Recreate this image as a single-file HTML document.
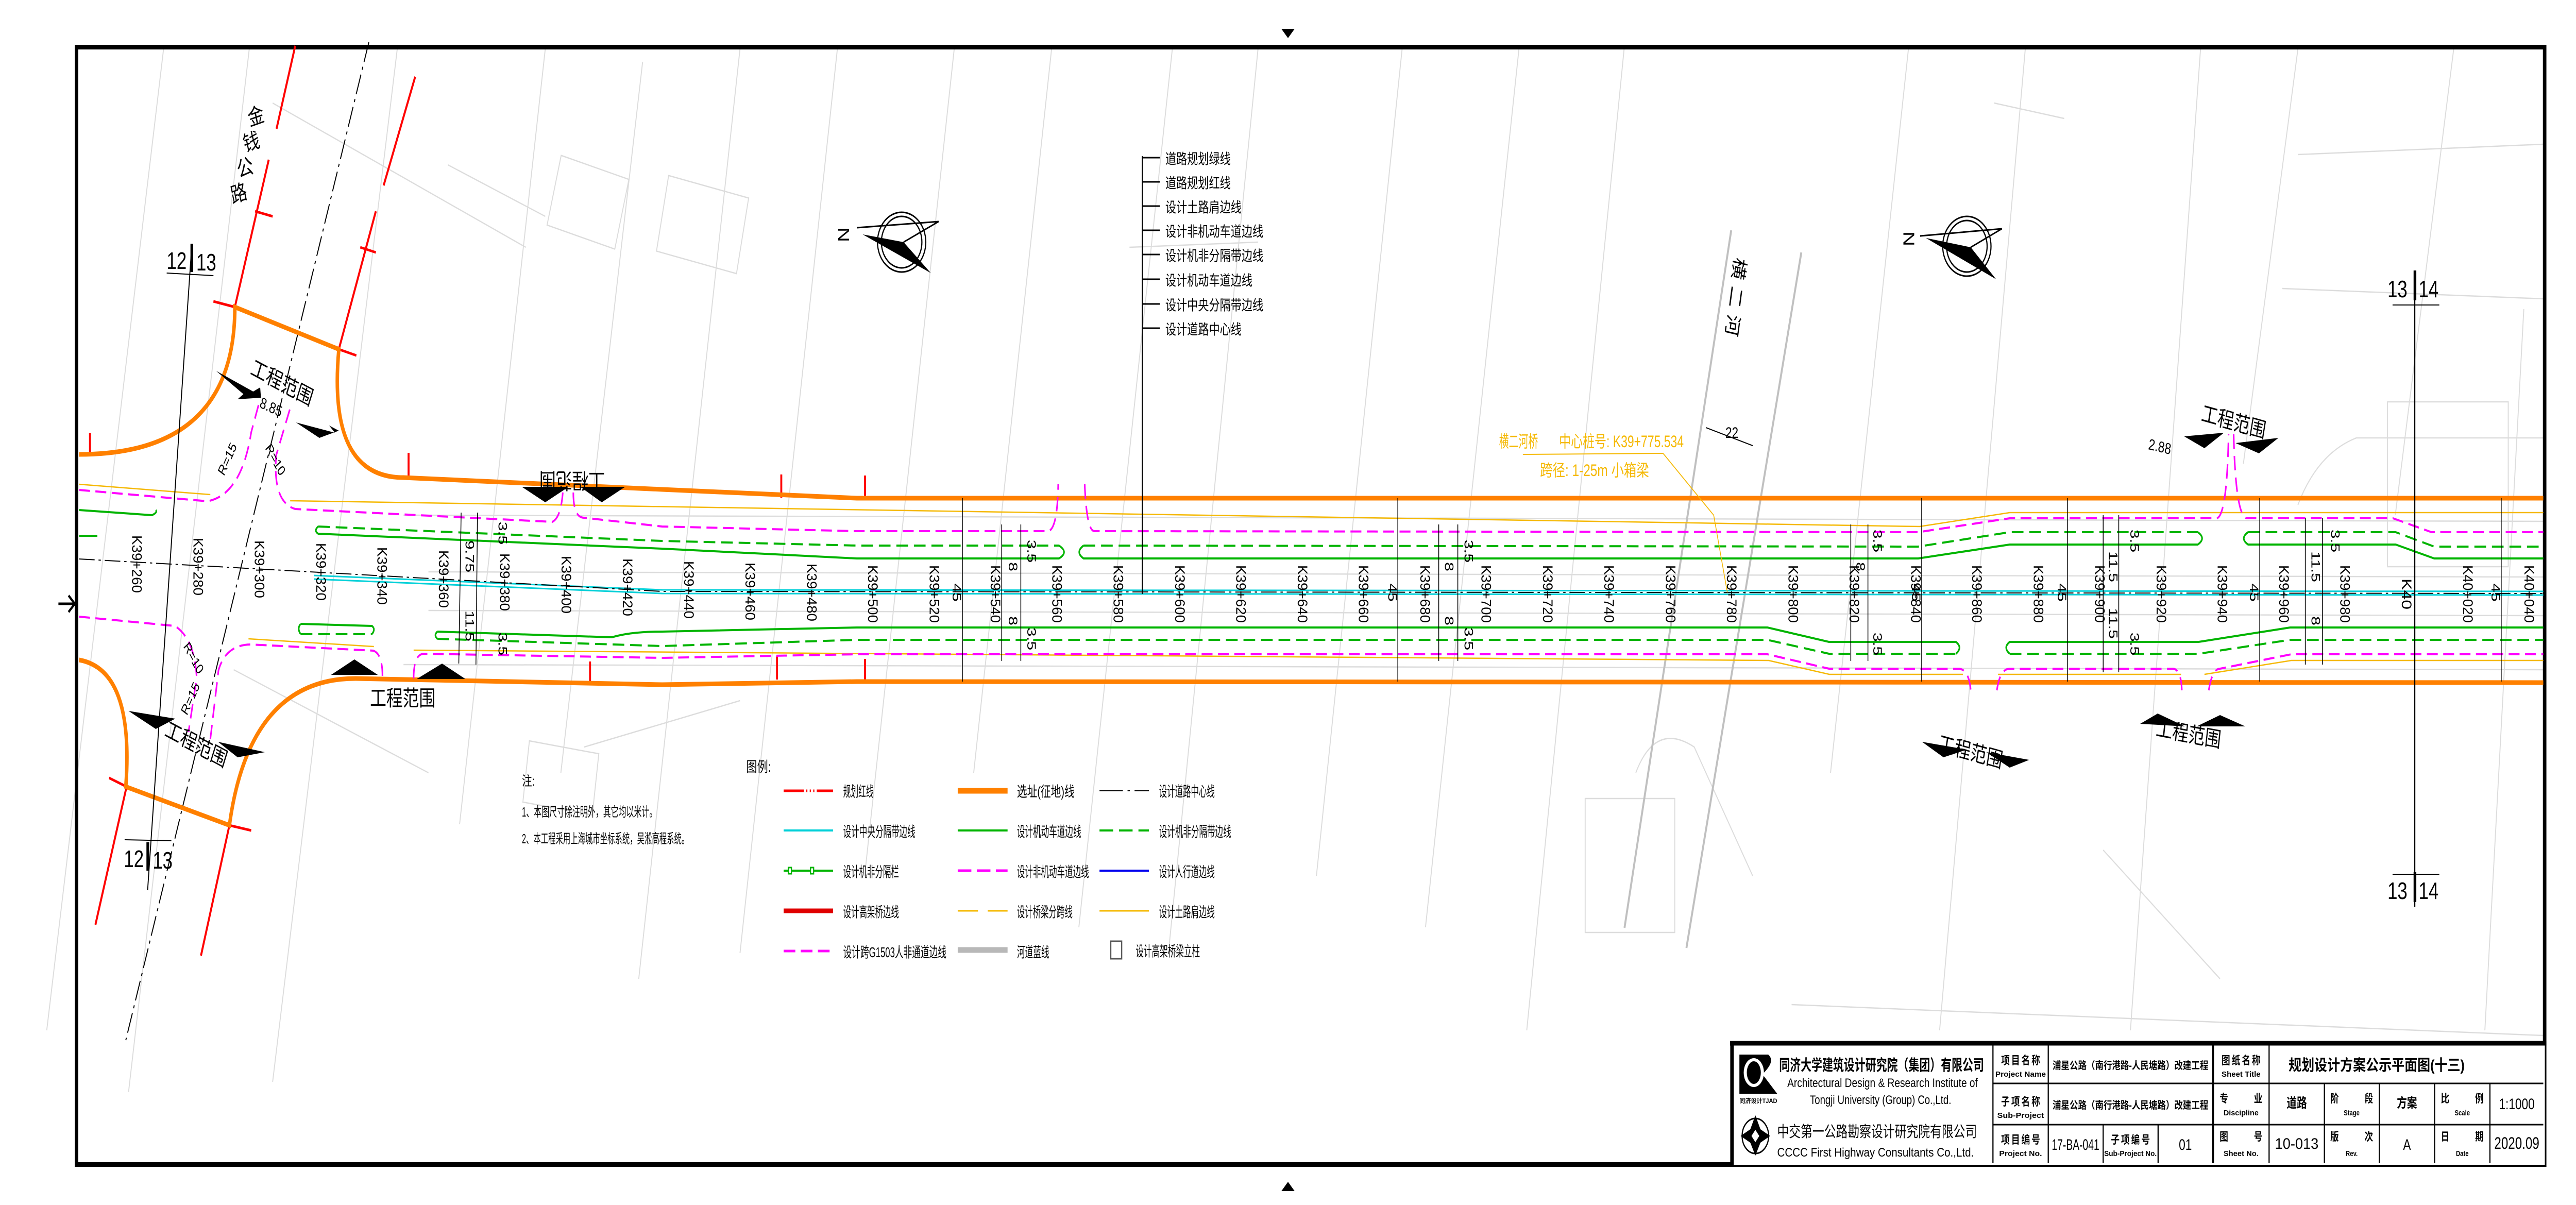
<!DOCTYPE html>
<html><head><meta charset="utf-8"><style>
html,body{margin:0;padding:0;background:#fff;width:100%;height:100%;overflow:hidden;}
svg{display:block;width:100vw;height:100vh;}
text{font-family:"Liberation Sans","Noto Sans CJK SC",sans-serif;}
.cn{font-family:"Liberation Sans","Noto Sans CJK SC",sans-serif;}
</style></head><body>
<svg viewBox="0 0 6614 2339" preserveAspectRatio="none" xmlns="http://www.w3.org/2000/svg">
<rect width="6614" height="2339" fill="#fff"/>

<g stroke="#dcdcdc" stroke-width="2.5" fill="none">
<path d="M420 95 L120 2000"/><path d="M640 95 L330 2120"/><path d="M1020 95 L700 2100"/>
<path d="M1400 95 L1180 1600"/><path d="M1650 120 L1440 1500"/><path d="M1900 95 L1640 1900"/>
<path d="M2150 95 L1900 1850"/><path d="M2450 95 L2220 1700"/><path d="M2700 95 L2500 1500"/>
<path d="M3010 95 L2770 1800"/><path d="M3230 95 L3000 1850"/><path d="M3600 95 L3380 1700"/>
<path d="M3900 95 L3660 1800"/><path d="M4170 95 L3920 2000"/><path d="M4900 95 L4700 1500"/>
<path d="M5200 95 L4980 2000"/><path d="M5650 95 L5470 2000"/><path d="M5900 95 L5760 900"/>
<path d="M6300 95 L6150 1000"/><path d="M6480 600 L6380 2000"/>
<path d="M700 200 L1350 480"/><path d="M1150 320 L1400 420"/><path d="M2900 480 L3230 470"/>
<path d="M5120 200 L5300 230"/><path d="M5900 300 L6530 280"/><path d="M5860 560 L6530 580"/>
<path d="M5900 980 Q5950 880 6050 850 L6530 850"/><path d="M4600 1950 L6530 2010"/>
<path d="M600 1300 L1100 1500"/><path d="M1500 1450 L1900 1360"/><path d="M5400 1650 L5700 1900"/>
<path d="M4200 1500 Q4250 1400 4350 1450 L4500 1700"/>
<path d="M1036 1000 L6530 1012"/><path d="M1036 1290 L6530 1300"/>
<path d="M1100 1110 L6530 1120"/><path d="M1100 1185 L6530 1195"/>
<rect x="1420" y="320" width="180" height="140" transform="rotate(15 1500 390)"/>
<rect x="1700" y="360" width="210" height="150" transform="rotate(12 1800 430)"/>
<rect x="4070" y="1550" width="230" height="260"/><rect x="6130" y="780" width="310" height="320"/>
<rect x="1350" y="1450" width="180" height="120" transform="rotate(8 1440 1510)"/>
</g>
<g stroke="#c0c0c0" stroke-width="5" fill="none">
<path d="M4445 447 L4171 1801"/><path d="M4625 490 L4330 1840"/>
</g>

<rect x="196.5" y="91.5" width="6337" height="2169" fill="none" stroke="#000" stroke-width="9"/>
<path d="M3290 56 L3324 56 L3307 74 Z" fill="#000"/>
<path d="M3290 2312 L3324 2312 L3307 2294 Z" fill="#000"/>
<path d="M150 1172 L192 1172 M176 1156 L192 1172 L176 1188" stroke="#000" stroke-width="5" fill="none"/>

<g stroke="#f00" stroke-width="5" fill="none">
<path d="M603 596 L690 310"/><path d="M710 250 L758 89"/>
<path d="M870 678 L965 410"/><path d="M985 360 L1066 149"/>
<path d="M325 1527 L245 1795"/><path d="M589 1602 L516 1855"/>
<path d="M231 840 L231 882"/><path d="M1049 879 L1049 924"/><path d="M2006 921 L2006 966"/>
<path d="M1515 1284 L1515 1330"/><path d="M1995 1274 L1995 1319"/>
<path d="M2221 923 L2221 967"/><path d="M2221 1279 L2221 1319"/>
<path d="M548 585 L603 596"/><path d="M870 678 L915 690"/><path d="M280 1510 L325 1527"/><path d="M589 1602 L645 1612"/>
<path d="M655 410 L700 420"/><path d="M925 480 L965 490"/>
</g>
<path d="M947 82 L323 2019" stroke="#000" stroke-width="2.5" stroke-dasharray="40 10 6 10" fill="none"/>

<g stroke="#f5b800" stroke-width="2.5" fill="none">
<path d="M203 940 L540 960"/><path d="M745 972 L4929 1022 L5160 995 L6530 995"/>
<path d="M638 1240 L960 1255"/><path d="M1062 1262 L4541 1282 L4697 1309 L5040 1309"/>
<path d="M5130 1309 L5600 1309"/><path d="M5660 1309 L5883 1282 L6530 1282"/>
</g>

<g stroke="#ff8000" stroke-width="9" fill="none">
<path d="M203 882 Q603 882 603 596 L870 678 Q840 927 1036 927 L1700 950 L2200 967 L6530 967"/>
<path d="M203 1281 Q345 1300 323 1527 L589 1602 Q640 1317 913 1317 L1700 1329 L2200 1323 L6530 1325"/>
</g>

<g stroke="#f0f" stroke-width="4" fill="none" stroke-dasharray="28 14">
<path d="M203 951 L533 973 Q620 960 645 839 L666 780"/>
<path d="M744 795 L709 884 Q700 975 758 988 L1418 1013 Q1440 1005 1445 956"/>
<path d="M1472 956 Q1472 1005 1500 1005 L1700 1022 L2200 1031 L2690 1031 Q2715 1030 2717 940"/>
<path d="M2785 940 Q2790 1031 2810 1031 L4925 1033 L5160 1006 L5692 1006 Q5718 1000 5722 843"/>
<path d="M5735 843 Q5740 1006 5770 1006 L6144 1006 L6243 1033 L6530 1033"/>
<path d="M203 1197 L449 1215 Q500 1240 505 1316 L484 1421"/>
<path d="M540 1435 L561 1301 Q580 1251 645 1251 L959 1263 Q982 1270 982 1312"/>
<path d="M1062 1317 Q1062 1269 1089 1269 L1700 1277 L2200 1270 L4538 1270 L4696 1298 L5030 1298 Q5055 1300 5060 1340"/>
<path d="M5127 1340 Q5135 1298 5160 1298 L5580 1298 Q5600 1300 5602 1340"/>
<path d="M5671 1340 Q5680 1298 5700 1298 L5883 1270 L6530 1270"/>
</g>

<g stroke="#00b400" stroke-width="4" fill="none">
<path d="M203 990 L390 1000 Q405 995 400 990"/>
<path d="M203 1040 L250 1040"/>
<path d="M817 1022 Q805 1030 817 1036 L1700 1065 L2200 1084 L2719 1084"/>
<path d="M2719 1084 Q2745 1072 2719 1059"/>
<path d="M2782 1059 Q2760 1072 2782 1084 L4925 1084 L5160 1057 L5643 1057 Q5665 1045 5643 1033"/>
<path d="M5772 1033 Q5750 1045 5772 1057 L6151 1057 L6250 1084 L6530 1084"/>
<path d="M772 1211 L955 1215 Q965 1221 955 1231"/>
<path d="M772 1211 Q762 1220 772 1231"/>
<path d="M1123 1226 L1571 1237 Q1620 1226 1700 1226 L2200 1218 L4538 1218 L4696 1246 L5022 1246 Q5040 1257 5022 1269"/>
<path d="M5160 1269 Q5142 1257 5160 1246 L5645 1246 L5880 1218 L6530 1218"/>
<path d="M1123 1226 Q1113 1233 1123 1240"/>
</g>
<g stroke="#00b400" stroke-width="4" fill="none" stroke-dasharray="30 15">
<path d="M817 1022 L1700 1050 L2200 1059 L2719 1059"/>
<path d="M2782 1059 L4925 1061 L5160 1033 L5643 1033"/>
<path d="M5772 1033 L6151 1033 L6250 1061 L6530 1061"/>
<path d="M772 1231 L955 1231"/>
<path d="M1123 1240 L1700 1254 L2200 1242 L4538 1242 L4696 1269 L5022 1269"/>
<path d="M5160 1269 L5645 1269 L5880 1242 L6530 1242"/>
</g>

<path d="M806 1117 L1700 1145 L6530 1148" stroke="#00d0d8" stroke-width="3" fill="none"/>
<path d="M806 1124 L1700 1152 L6530 1155" stroke="#00d0d8" stroke-width="3" fill="none"/>
<path d="M203 1085 L1700 1148 L6530 1152" stroke="#000" stroke-width="2" stroke-dasharray="40 10 6 10" fill="none"/>

<g font-size="36" fill="#000">
<text transform="translate(351,1095) rotate(90)" text-anchor="middle" dy="12" textLength="112" lengthAdjust="spacingAndGlyphs">K39+260</text>
<text transform="translate(509,1100) rotate(90)" text-anchor="middle" dy="12" textLength="112" lengthAdjust="spacingAndGlyphs">K39+280</text>
<text transform="translate(666,1105) rotate(90)" text-anchor="middle" dy="12" textLength="112" lengthAdjust="spacingAndGlyphs">K39+300</text>
<text transform="translate(824,1110) rotate(90)" text-anchor="middle" dy="12" textLength="112" lengthAdjust="spacingAndGlyphs">K39+320</text>
<text transform="translate(981,1118) rotate(90)" text-anchor="middle" dy="12" textLength="112" lengthAdjust="spacingAndGlyphs">K39+340</text>
<text transform="translate(1139,1124) rotate(90)" text-anchor="middle" dy="12" textLength="112" lengthAdjust="spacingAndGlyphs">K39+360</text>
<text transform="translate(1296,1130) rotate(90)" text-anchor="middle" dy="12" textLength="112" lengthAdjust="spacingAndGlyphs">K39+380</text>
<text transform="translate(1454,1135) rotate(90)" text-anchor="middle" dy="12" textLength="112" lengthAdjust="spacingAndGlyphs">K39+400</text>
<text transform="translate(1611,1140) rotate(90)" text-anchor="middle" dy="12" textLength="112" lengthAdjust="spacingAndGlyphs">K39+420</text>
<text transform="translate(1769,1145) rotate(90)" text-anchor="middle" dy="12" textLength="112" lengthAdjust="spacingAndGlyphs">K39+440</text>
<text transform="translate(1926,1148) rotate(90)" text-anchor="middle" dy="12" textLength="112" lengthAdjust="spacingAndGlyphs">K39+460</text>
<text transform="translate(2084,1150) rotate(90)" text-anchor="middle" dy="12" textLength="112" lengthAdjust="spacingAndGlyphs">K39+480</text>
<text transform="translate(2241,1153) rotate(90)" text-anchor="middle" dy="12" textLength="112" lengthAdjust="spacingAndGlyphs">K39+500</text>
<text transform="translate(2399,1153) rotate(90)" text-anchor="middle" dy="12" textLength="112" lengthAdjust="spacingAndGlyphs">K39+520</text>
<text transform="translate(2556,1153) rotate(90)" text-anchor="middle" dy="12" textLength="112" lengthAdjust="spacingAndGlyphs">K39+540</text>
<text transform="translate(2714,1153) rotate(90)" text-anchor="middle" dy="12" textLength="112" lengthAdjust="spacingAndGlyphs">K39+560</text>
<text transform="translate(2871,1153) rotate(90)" text-anchor="middle" dy="12" textLength="112" lengthAdjust="spacingAndGlyphs">K39+580</text>
<text transform="translate(3029,1153) rotate(90)" text-anchor="middle" dy="12" textLength="112" lengthAdjust="spacingAndGlyphs">K39+600</text>
<text transform="translate(3186,1153) rotate(90)" text-anchor="middle" dy="12" textLength="112" lengthAdjust="spacingAndGlyphs">K39+620</text>
<text transform="translate(3344,1153) rotate(90)" text-anchor="middle" dy="12" textLength="112" lengthAdjust="spacingAndGlyphs">K39+640</text>
<text transform="translate(3501,1153) rotate(90)" text-anchor="middle" dy="12" textLength="112" lengthAdjust="spacingAndGlyphs">K39+660</text>
<text transform="translate(3659,1153) rotate(90)" text-anchor="middle" dy="12" textLength="112" lengthAdjust="spacingAndGlyphs">K39+680</text>
<text transform="translate(3816,1153) rotate(90)" text-anchor="middle" dy="12" textLength="112" lengthAdjust="spacingAndGlyphs">K39+700</text>
<text transform="translate(3974,1153) rotate(90)" text-anchor="middle" dy="12" textLength="112" lengthAdjust="spacingAndGlyphs">K39+720</text>
<text transform="translate(4131,1153) rotate(90)" text-anchor="middle" dy="12" textLength="112" lengthAdjust="spacingAndGlyphs">K39+740</text>
<text transform="translate(4289,1153) rotate(90)" text-anchor="middle" dy="12" textLength="112" lengthAdjust="spacingAndGlyphs">K39+760</text>
<text transform="translate(4446,1153) rotate(90)" text-anchor="middle" dy="12" textLength="112" lengthAdjust="spacingAndGlyphs">K39+780</text>
<text transform="translate(4604,1153) rotate(90)" text-anchor="middle" dy="12" textLength="112" lengthAdjust="spacingAndGlyphs">K39+800</text>
<text transform="translate(4761,1153) rotate(90)" text-anchor="middle" dy="12" textLength="112" lengthAdjust="spacingAndGlyphs">K39+820</text>
<text transform="translate(4919,1153) rotate(90)" text-anchor="middle" dy="12" textLength="112" lengthAdjust="spacingAndGlyphs">K39+840</text>
<text transform="translate(5076,1153) rotate(90)" text-anchor="middle" dy="12" textLength="112" lengthAdjust="spacingAndGlyphs">K39+860</text>
<text transform="translate(5234,1153) rotate(90)" text-anchor="middle" dy="12" textLength="112" lengthAdjust="spacingAndGlyphs">K39+880</text>
<text transform="translate(5391,1153) rotate(90)" text-anchor="middle" dy="12" textLength="112" lengthAdjust="spacingAndGlyphs">K39+900</text>
<text transform="translate(5549,1153) rotate(90)" text-anchor="middle" dy="12" textLength="112" lengthAdjust="spacingAndGlyphs">K39+920</text>
<text transform="translate(5706,1153) rotate(90)" text-anchor="middle" dy="12" textLength="112" lengthAdjust="spacingAndGlyphs">K39+940</text>
<text transform="translate(5864,1153) rotate(90)" text-anchor="middle" dy="12" textLength="112" lengthAdjust="spacingAndGlyphs">K39+960</text>
<text transform="translate(6021,1153) rotate(90)" text-anchor="middle" dy="12" textLength="112" lengthAdjust="spacingAndGlyphs">K39+980</text>
<text transform="translate(6179,1153) rotate(90)" text-anchor="middle" dy="12" textLength="60" lengthAdjust="spacingAndGlyphs">K40</text>
<text transform="translate(6336,1153) rotate(90)" text-anchor="middle" dy="12" textLength="112" lengthAdjust="spacingAndGlyphs">K40+020</text>
<text transform="translate(6494,1153) rotate(90)" text-anchor="middle" dy="12" textLength="112" lengthAdjust="spacingAndGlyphs">K40+040</text>
</g>

<g stroke="#000" stroke-width="2" fill="none">
<path d="M2471 967 L2471 1323"/><path d="M3589 967 L3589 1323"/><path d="M4934 967 L4934 1323"/>
<path d="M5308 967 L5308 1323"/><path d="M5802 967 L5802 1323"/><path d="M6422 967 L6422 1323"/>
<path d="M1184 995 L1178 1288"/><path d="M1226 995 L1222 1290"/>
<path d="M2572 1018 L2572 1283"/><path d="M2621 1018 L2621 1283"/>
<path d="M3694 1018 L3694 1283"/><path d="M3743 1018 L3743 1283"/>
<path d="M4752 1018 L4752 1283"/><path d="M4796 1018 L4796 1283"/>
<path d="M5400 1000 L5400 1305"/><path d="M5440 1000 L5440 1305"/>
<path d="M5919 1005 L5919 1290"/><path d="M5963 1005 L5963 1290"/>
<path d="M6200 560 L6200 1760" stroke-width="3"/>
<path d="M491 492 L379 1728" stroke-width="2.5"/>
<path d="M4380 830 L4500 865"/>
<path d="M2933 303 L2933 1153" stroke-width="3"/>
<path d="M2933 306 L2978 306 M2933 353 L2978 353 M2933 400 L2978 400 M2933 447 L2978 447 M2933 494 L2978 494 M2933 542 L2978 542 M2933 590 L2978 590 M2933 637 L2978 637" stroke-width="3"/>
</g>
<g font-size="32" fill="#000">
<text transform="translate(2456,1150) rotate(90)" text-anchor="middle" dy="10">45</text>
<text transform="translate(3574,1150) rotate(90)" text-anchor="middle" dy="10">45</text>
<text transform="translate(4919,1150) rotate(90)" text-anchor="middle" dy="10">45</text>
<text transform="translate(5293,1150) rotate(90)" text-anchor="middle" dy="10">45</text>
<text transform="translate(5787,1150) rotate(90)" text-anchor="middle" dy="10">45</text>
<text transform="translate(6407,1150) rotate(90)" text-anchor="middle" dy="10">45</text>
<text transform="translate(2600,1100) rotate(90)" text-anchor="middle" dy="10">8</text>
<text transform="translate(2600,1205) rotate(90)" text-anchor="middle" dy="10">8</text>
<text transform="translate(2648,1070) rotate(90)" text-anchor="middle" dy="10">3.5</text>
<text transform="translate(2648,1240) rotate(90)" text-anchor="middle" dy="10">3.5</text>
<text transform="translate(3720,1100) rotate(90)" text-anchor="middle" dy="10">8</text>
<text transform="translate(3720,1205) rotate(90)" text-anchor="middle" dy="10">8</text>
<text transform="translate(3770,1070) rotate(90)" text-anchor="middle" dy="10">3.5</text>
<text transform="translate(3770,1240) rotate(90)" text-anchor="middle" dy="10">3.5</text>
<text transform="translate(1205,1080) rotate(90)" text-anchor="middle" dy="10">9.75</text>
<text transform="translate(1205,1215) rotate(90)" text-anchor="middle" dy="10">11.5</text>
<text transform="translate(1290,1035) rotate(90)" text-anchor="middle" dy="10">3.5</text>
<text transform="translate(1290,1250) rotate(90)" text-anchor="middle" dy="10">3.5</text>
<text transform="translate(5425,1100) rotate(90)" text-anchor="middle" dy="10">11.5</text>
<text transform="translate(5425,1210) rotate(90)" text-anchor="middle" dy="10">11.5</text>
<text transform="translate(5480,1050) rotate(90)" text-anchor="middle" dy="10">3.5</text>
<text transform="translate(5480,1250) rotate(90)" text-anchor="middle" dy="10">3.5</text>
<text transform="translate(5945,1100) rotate(90)" text-anchor="middle" dy="10">11.5</text>
<text transform="translate(5945,1205) rotate(90)" text-anchor="middle" dy="10">8</text>
<text transform="translate(5995,1050) rotate(90)" text-anchor="middle" dy="10">3.5</text>
<text transform="translate(4776,1100) rotate(90)" text-anchor="middle" dy="10">8</text>
<text transform="translate(4820,1050) rotate(90)" text-anchor="middle" dy="10">3.5</text>
<text transform="translate(4820,1250) rotate(90)" text-anchor="middle" dy="10">3.5</text>
<text x="4430" y="850" font-size="30">22</text>
<text x="5515" y="872" font-size="30" transform="rotate(10 5515 872)">2.88</text>
<text x="665" y="790" font-size="30" transform="rotate(20 665 790)">8.85</text>
<text x="575" y="925" font-size="28" transform="rotate(-60 575 925)">R=15</text>
<text x="680" y="870" font-size="28" transform="rotate(55 680 870)">R=10</text>
<text x="480" y="1390" font-size="28" transform="rotate(-60 480 1390)">R=15</text>
<text x="470" y="1255" font-size="28" transform="rotate(55 470 1255)">R=10</text>
</g>

<g fill="#000" font-size="46">
<text x="428" y="522">12</text><text x="504" y="525">13</text>
<rect x="489" y="473" width="7" height="55"/><path d="M428 530 L548 535" stroke="#000" stroke-width="2"/>
<text x="318" y="1683">12</text><text x="392" y="1686">13</text>
<rect x="376" y="1635" width="7" height="55"/><path d="M320 1630 L440 1632" stroke="#000" stroke-width="2"/>
<text x="6130" y="577">13</text><text x="6210" y="577">14</text>
<rect x="6197" y="525" width="7" height="58"/><path d="M6143 592 L6263 592" stroke="#000" stroke-width="2"/>
<text x="6130" y="1745">13</text><text x="6210" y="1745">14</text>
<rect x="6197" y="1693" width="7" height="58"/><path d="M6143 1697 L6263 1697" stroke="#000" stroke-width="2"/>
</g>

<g fill="#000" font-size="42" class="cn">
<text x="640" y="240" transform="rotate(-15 660 240)">金</text>
<text x="628" y="290" transform="rotate(-15 648 290)">钱</text>
<text x="612" y="340" transform="rotate(-15 632 340)">公</text>
<text x="596" y="390" transform="rotate(-15 616 390)">路</text>
<text x="4440" y="530" transform="rotate(100 4460 520)">横</text>
<text x="4432" y="585" transform="rotate(100 4452 575)">二</text>
<text x="4424" y="640" transform="rotate(100 4444 630)">河</text>
</g>

<g fill="#000" font-size="42" class="cn">
<text x="640" y="760" transform="rotate(22 730 745)">工程范围</text>
<text transform="translate(1468,918) rotate(180)" x="-85" y="0">工程范围</text>
<text x="950" y="1370">工程范围</text>
<text x="420" y="1460" transform="rotate(22 505 1445)">工程范围</text>
<text x="5650" y="835" transform="rotate(12 5741 826)">工程范围</text>
<text x="4975" y="1475" transform="rotate(12 5064 1463)">工程范围</text>
<text x="5535" y="1440" transform="rotate(8 5621 1428)">工程范围</text>
</g>
<g fill="#000">
<path d="M555 720 L650 760 L668 752 L670 772 L610 775 L625 765 Z"/>
<path d="M760 820 L860 840 L845 826 L870 836 L820 850 Z"/>
<path d="M1340 945 L1460 945 L1400 975 Z"/><path d="M1490 945 L1605 945 L1545 975 Z"/>
<path d="M850 1310 L970 1310 L910 1280 Z"/><path d="M1070 1318 L1195 1318 L1135 1288 Z"/>
<path d="M330 1380 L450 1395 L400 1415 Z"/><path d="M560 1440 L680 1460 L610 1470 Z"/>
<path d="M5608 847 L5710 840 L5660 870 Z"/><path d="M5740 860 L5850 850 L5800 880 Z"/>
<path d="M4935 1440 L5050 1455 L4990 1470 Z"/><path d="M5100 1460 L5210 1475 L5160 1490 Z"/>
<path d="M5495 1405 L5610 1410 L5540 1385 Z"/><path d="M5640 1410 L5765 1410 L5700 1388 Z"/>
</g>

<g stroke="#000" fill="none" stroke-width="3">
<ellipse cx="2315" cy="470" rx="62" ry="58"/><ellipse cx="2315" cy="470" rx="52" ry="50"/>
<ellipse cx="5050" cy="478" rx="62" ry="58"/><ellipse cx="5050" cy="478" rx="52" ry="50"/>
<path d="M2200 442 L2410 430 L2320 470"/><path d="M4930 458 L5140 444 L5060 480"/>
</g>
<path d="M2215 455 L2390 530 L2320 470 Z" fill="#000"/>
<path d="M4945 462 L5125 542 L5060 480 Z" fill="#000"/>
<text x="2150" y="460" font-size="40" fill="#000" transform="rotate(-90 2170 450)">N</text>
<text x="4885" y="468" font-size="40" fill="#000" transform="rotate(-90 4905 458)">N</text>

<g fill="#f5b800" font-size="32">
<text x="3849" y="868" textLength="100" lengthAdjust="spacingAndGlyphs">横二河桥</text>
<text x="4003" y="868" textLength="320" lengthAdjust="spacingAndGlyphs">中心桩号: K39+775.534</text>
<text x="3954" y="924" textLength="280" lengthAdjust="spacingAndGlyphs">跨径: 1-25m   小箱梁</text>
</g>
<path d="M3910 882 L4270 880 L4400 1000 L4435 1150" stroke="#f5b800" stroke-width="2" fill="none"/>

<g fill="#000" font-size="28" class="cn">
<text x="2992" y="318">道路规划绿线</text>
<text x="2992" y="365">道路规划红线</text>
<text x="2992" y="412">设计土路肩边线</text>
<text x="2992" y="459">设计非机动车道边线</text>
<text x="2992" y="506">设计机非分隔带边线</text>
<text x="2992" y="554">设计机动车道边线</text>
<text x="2992" y="602">设计中央分隔带边线</text>
<text x="2992" y="649">设计道路中心线</text>
</g>

<g fill="#000" font-size="26" class="cn">
<text x="1340" y="1525">注:</text>
<text x="1340" y="1585" textLength="347" lengthAdjust="spacingAndGlyphs">1、本图尺寸除注明外，其它均以米计。</text>
<text x="1340" y="1637" textLength="429" lengthAdjust="spacingAndGlyphs">2、本工程采用上海城市坐标系统，吴淞高程系统。</text>
<text x="1916" y="1498" font-size="28">图例:</text>
</g>

<g fill="none">
<path d="M2012 1535 L2139 1535" stroke="#f00" stroke-width="5" stroke-dasharray="52 6 3 6 3 6 3 6 60"/>
<path d="M2012 1612 L2139 1612" stroke="#00d0d8" stroke-width="4"/>
<path d="M2012 1690 L2139 1690" stroke="#00b400" stroke-width="4"/>
<rect x="2024" y="1684" width="8" height="12" stroke="#00b400" stroke-width="3" fill="#fff"/>
<rect x="2081" y="1684" width="8" height="12" stroke="#00b400" stroke-width="3" fill="#fff"/>
<path d="M2012 1768 L2139 1768" stroke="#e00000" stroke-width="9"/>
<path d="M2012 1846 L2139 1846" stroke="#f0f" stroke-width="5" stroke-dasharray="30 14"/>
<path d="M2459 1535 L2587 1535" stroke="#ff8000" stroke-width="11"/>
<path d="M2459 1612 L2587 1612" stroke="#00b400" stroke-width="4"/>
<path d="M2459 1690 L2587 1690" stroke="#f0f" stroke-width="5" stroke-dasharray="35 14"/>
<path d="M2459 1768 L2587 1768" stroke="#f5b800" stroke-width="3" stroke-dasharray="52 25"/>
<path d="M2459 1844 L2587 1844" stroke="#b8b8b8" stroke-width="11"/>
<path d="M2823 1535 L2950 1535" stroke="#000" stroke-width="2" stroke-dasharray="60 12 6 12"/>
<path d="M2823 1612 L2950 1612" stroke="#00b400" stroke-width="4" stroke-dasharray="35 15"/>
<path d="M2823 1690 L2950 1690" stroke="#0000ee" stroke-width="4"/>
<path d="M2823 1768 L2950 1768" stroke="#f5b800" stroke-width="3"/>
<rect x="2852" y="1827" width="28" height="34" stroke="#555" stroke-width="3"/>
</g>
<g fill="#000" font-size="28" class="cn">
<text x="2165" y="1546" textLength="78" lengthAdjust="spacingAndGlyphs">规划红线</text>
<text x="2165" y="1624" textLength="185" lengthAdjust="spacingAndGlyphs">设计中央分隔带边线</text>
<text x="2165" y="1702" textLength="143" lengthAdjust="spacingAndGlyphs">设计机非分隔栏</text>
<text x="2165" y="1780" textLength="143" lengthAdjust="spacingAndGlyphs">设计高架桥边线</text>
<text x="2165" y="1858" textLength="265" lengthAdjust="spacingAndGlyphs">设计跨G1503人非通道边线</text>
<text x="2611" y="1546" textLength="148" lengthAdjust="spacingAndGlyphs">选址(征地)线</text>
<text x="2611" y="1624" textLength="165" lengthAdjust="spacingAndGlyphs">设计机动车道边线</text>
<text x="2611" y="1702" textLength="185" lengthAdjust="spacingAndGlyphs">设计非机动车道边线</text>
<text x="2611" y="1780" textLength="143" lengthAdjust="spacingAndGlyphs">设计桥梁分跨线</text>
<text x="2611" y="1858" textLength="83" lengthAdjust="spacingAndGlyphs">河道蓝线</text>
<text x="2976" y="1546" textLength="143" lengthAdjust="spacingAndGlyphs">设计道路中心线</text>
<text x="2976" y="1624" textLength="185" lengthAdjust="spacingAndGlyphs">设计机非分隔带边线</text>
<text x="2976" y="1702" textLength="143" lengthAdjust="spacingAndGlyphs">设计人行道边线</text>
<text x="2976" y="1780" textLength="143" lengthAdjust="spacingAndGlyphs">设计土路肩边线</text>
<text x="2916" y="1856" textLength="165" lengthAdjust="spacingAndGlyphs">设计高架桥梁立柱</text>
</g>

<rect x="4447" y="2025" width="2087" height="236" fill="#fff"/>
<path d="M4442 2025 L6538 2025 M4447 2021 L4447 2265" stroke="#000" stroke-width="9"/>
<g stroke="#000" stroke-width="3" fill="none">
<path d="M5117 2029 L5117 2257"/><path d="M5259 2029 L5259 2257"/>
<path d="M5400 2183 L5400 2257"/><path d="M5541 2183 L5541 2257"/>
<path d="M5682 2029 L5682 2257" stroke-width="5"/><path d="M5826 2029 L5826 2257"/>
<path d="M5968 2103 L5968 2257"/><path d="M6109 2103 L6109 2257"/>
<path d="M6251 2103 L6251 2257"/><path d="M6393 2103 L6393 2257"/>
<path d="M5117 2103 L6530 2103"/><path d="M5117 2183 L6530 2183"/>
</g>
<path d="M4466 2047 L4466 2123 L4563 2123 L4525 2085 Q4560 2060 4540 2047 Z" fill="#000"/>
<ellipse cx="4503" cy="2082" rx="26" ry="28" fill="#fff"/><ellipse cx="4503" cy="2082" rx="18" ry="22" fill="#000"/>
<text x="4466" y="2141" font-size="12" font-weight="bold" fill="#000" textLength="97" lengthAdjust="spacingAndGlyphs">同济设计TJAD</text>
<circle cx="4507" cy="2205" r="34" stroke="#000" stroke-width="3" fill="none"/>
<path d="M4507 2165 L4520 2192 L4545 2205 L4520 2218 L4507 2243 L4494 2218 L4469 2205 L4494 2192 Z" fill="#000"/>
<path d="M4507 2193 L4517 2205 L4507 2217 L4497 2205 Z" fill="#fff"/>
<g fill="#000">
<text x="4568" y="2078" font-size="30" font-weight="bold" textLength="526" lengthAdjust="spacingAndGlyphs">同济大学建筑设计研究院（集团）有限公司</text>
<text x="4589" y="2110" font-size="24" font-family="Liberation Serif" textLength="489" lengthAdjust="spacingAndGlyphs">Architectural Design &amp; Research Institute of</text>
<text x="4647" y="2143" font-size="24" font-family="Liberation Serif" textLength="363" lengthAdjust="spacingAndGlyphs">Tongji University (Group) Co.,Ltd.</text>
<text x="4563" y="2207" font-size="30" textLength="513" lengthAdjust="spacingAndGlyphs">中交第一公路勘察设计研究院有限公司</text>
<text x="4563" y="2245" font-size="24" font-family="Liberation Mono" textLength="505" lengthAdjust="spacingAndGlyphs">CCCC First Highway Consultants Co.,Ltd.</text>
</g>
<g fill="#000" font-weight="bold">
<g font-size="22">
<text x="5188" y="2066" text-anchor="middle" textLength="100" lengthAdjust="spacing">项目名称</text>
<text x="5188" y="2146" text-anchor="middle" textLength="100" lengthAdjust="spacing">子项名称</text>
<text x="5188" y="2220" text-anchor="middle" textLength="100" lengthAdjust="spacing">项目编号</text>
<text x="5470" y="2220" text-anchor="middle" textLength="100" lengthAdjust="spacing">子项编号</text>
<text x="5754" y="2066" text-anchor="middle" textLength="100" lengthAdjust="spacing">图纸名称</text>
<text x="5754" y="2140" text-anchor="middle" textLength="110" lengthAdjust="spacing">专         业</text>
<text x="5754" y="2214" text-anchor="middle" textLength="110" lengthAdjust="spacing">图         号</text>
<text x="6038" y="2140" text-anchor="middle" textLength="110" lengthAdjust="spacing">阶         段</text>
<text x="6038" y="2214" text-anchor="middle" textLength="110" lengthAdjust="spacing">版         次</text>
<text x="6322" y="2140" text-anchor="middle" textLength="110" lengthAdjust="spacing">比         例</text>
<text x="6322" y="2214" text-anchor="middle" textLength="110" lengthAdjust="spacing">日         期</text>
<text x="5897" y="2150" text-anchor="middle" font-size="26">道路</text>
<text x="6180" y="2150" text-anchor="middle" font-size="26">方案</text>
</g>
<g font-size="15" font-family="Liberation Serif">
<text x="5188" y="2090" text-anchor="middle" textLength="130" lengthAdjust="spacingAndGlyphs">Project Name</text>
<text x="5188" y="2170" text-anchor="middle" textLength="120" lengthAdjust="spacingAndGlyphs">Sub-Project</text>
<text x="5188" y="2244" text-anchor="middle" textLength="110" lengthAdjust="spacingAndGlyphs">Project No.</text>
<text x="5470" y="2244" text-anchor="middle" textLength="135" lengthAdjust="spacingAndGlyphs">Sub-Project No.</text>
<text x="5754" y="2090" text-anchor="middle" textLength="100" lengthAdjust="spacingAndGlyphs">Sheet Title</text>
<text x="5754" y="2165" text-anchor="middle" textLength="90" lengthAdjust="spacingAndGlyphs">Discipline</text>
<text x="5754" y="2244" text-anchor="middle" textLength="90" lengthAdjust="spacingAndGlyphs">Sheet No.</text>
<text x="6038" y="2165" text-anchor="middle">Stage</text>
<text x="6038" y="2244" text-anchor="middle">Rev.</text>
<text x="6322" y="2165" text-anchor="middle">Scale</text>
<text x="6322" y="2244" text-anchor="middle">Date</text>
</g>
<text x="5270" y="2075" font-size="20" textLength="400" lengthAdjust="spacingAndGlyphs">浦星公路（南行港路-人民塘路）改建工程</text>
<text x="5270" y="2152" font-size="20" textLength="400" lengthAdjust="spacingAndGlyphs">浦星公路（南行港路-人民塘路）改建工程</text>
<text x="5876" y="2078" font-size="30" textLength="452" lengthAdjust="spacingAndGlyphs">规划设计方案公示平面图(十三)</text>
</g>
<g fill="#000" font-size="30" font-family="Liberation Serif">
<text x="5329" y="2232" text-anchor="middle" textLength="122" lengthAdjust="spacingAndGlyphs">17-BA-041</text>
<text x="5611" y="2232" text-anchor="middle">01</text>
<text x="5897" y="2230" text-anchor="middle" textLength="112" lengthAdjust="spacingAndGlyphs">10-013</text>
<text x="6180" y="2232" text-anchor="middle">A</text>
<text x="6462" y="2153" text-anchor="middle">1:1000</text>
<text x="6462" y="2230" text-anchor="middle" font-size="32">2020.09</text>
</g>
</svg>
</body></html>
